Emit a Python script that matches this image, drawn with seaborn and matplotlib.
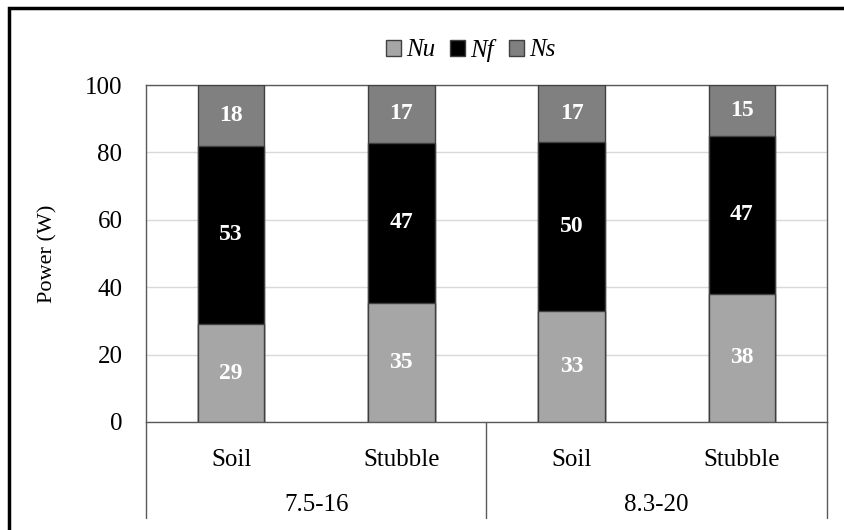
import numpy as np
import pandas as pd
import matplotlib
matplotlib.use("Agg")
import matplotlib.pyplot as plt
from matplotlib.patches import Patch, Rectangle
import seaborn as sns

# data
surfaces = ["Soil", "Stubble", "Soil", "Stubble"]
groups = ["7.5-16", "8.3-20"]
nu = [29, 35, 33, 38]
nf = [53, 47, 50, 47]
ns = [18, 17, 17, 15]

series_names = ["Nu", "Nf", "Ns"]
series_colors = ["#a6a6a6", "#000000", "#808080"]

sns.set_theme(style="white")
plt.rcParams["font.family"] = "serif"
plt.rcParams["font.serif"] = ["Liberation Serif", "DejaVu Serif"]
plt.rcParams["text.color"] = "black"
plt.rcParams["axes.labelcolor"] = "black"
FONT = "Liberation Serif"

keys = ["b%d" % i for i in range(len(surfaces))]
vals = np.array([nu, nf, ns], dtype=float)
pct = vals / vals.sum(axis=0) * 100  # 100% stacked
tops = np.cumsum(pct, axis=0)

fig = plt.figure(figsize=(8.45, 5.30), dpi=100)
ax = fig.add_axes([146 / 845, 1 - 422 / 530, 681 / 845, 337 / 530])

# draw from the top layer down so each bar covers the one behind it
for i in [2, 1, 0]:
    df = pd.DataFrame({"key": keys, "top": tops[i]})
    sns.barplot(data=df, x="key", y="top", order=keys, color=series_colors[i],
                saturation=1, width=0.39, edgecolor="#404040", linewidth=1,
                ax=ax, zorder=3)

# segment labels
for i in range(3):
    mids = tops[i] - pct[i] / 2
    for j in range(len(keys)):
        ax.text(j, mids[j], "%d" % vals[i, j], ha="center", va="center", family=FONT,
                color="white", fontsize=17, fontweight="bold", zorder=5)

ax.set_ylim(0, 100)
ax.set_xlim(-0.5, len(keys) - 0.5)
ax.set_yticks([0, 20, 40, 60, 80, 100])
ax.set_yticklabels(["0", "20", "40", "60", "80", "100"], family=FONT, fontsize=18)
ax.yaxis.grid(True, color="#d9d9d9", linewidth=1)
ax.set_axisbelow(True)
ax.tick_params(axis="y", length=0, pad=17, labelcolor="black")
ax.set_xticks([])
ax.set_xlabel("")
ax.set_ylabel("Power (W)", fontsize=16, family=FONT, labelpad=20, color="black")
for s in ax.spines.values():
    s.set_color("#595959")
    s.set_linewidth(1)

# two-level category axis below the plot
tr = ax.get_xaxis_transform()
for x in [-0.5, 1.5, 3.5]:
    ax.plot([x, x], [0, -0.285], transform=tr, color="#595959", lw=1, clip_on=False)
for j, s in enumerate(surfaces):
    ax.text(j, -0.113, s, transform=tr, ha="center", va="center", fontsize=18,
            family=FONT, color="black")
for g, x in zip(groups, [0.5, 2.5]):
    ax.text(x, -0.246, g, transform=tr, ha="center", va="center", fontsize=18,
            family=FONT, color="black")

handles = [Patch(facecolor=c, edgecolor="#404040", linewidth=1) for c in series_colors]
leg = fig.legend(handles, series_names, loc="center", bbox_to_anchor=(0.557, 1 - 50 / 530),
                 ncol=3, frameon=False, handlelength=0.6, handleheight=0.6,
                 handletextpad=0.2, columnspacing=0.6,
                 prop={"family": FONT, "style": "italic", "size": 18})
for t in leg.get_texts():
    t.set_color("black")

# outer chart border (only left and top edges visible in the crop)
fig.patches.append(Rectangle((9 / 845, -1), 2, 1 + 1 - 8 / 530, transform=fig.transFigure,
                             fill=False, edgecolor="black", linewidth=2.5))

fig.savefig("out.png", dpi=100)
